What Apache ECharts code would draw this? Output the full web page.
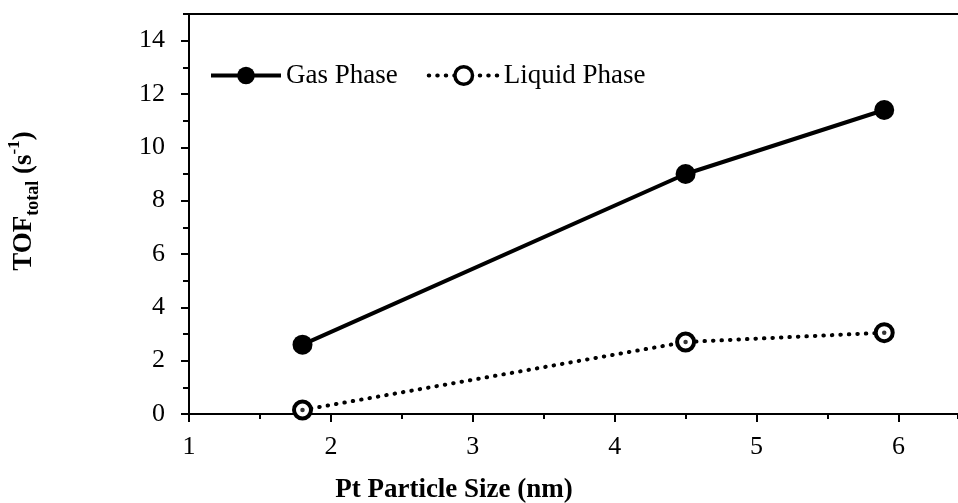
<!DOCTYPE html>
<html><head><meta charset="utf-8">
<script src="https://cdn.jsdelivr.net/npm/echarts@6/dist/echarts.min.js"></script>
<style>html,body{margin:0;padding:0;background:#fff}#c{width:958px;height:503px}</style>
</head><body><div id="c"></div>
<script>
// ---- data ----
const xMin = 1, xMax = 6.42, xStep = 1, xMinorStep = 0.5;
const yMin = 0, yMax = 15, yStep = 2, yMinorStep = 1;
const sizes = [1.8, 4.5, 5.9];
const gas = [2.6, 9.0, 11.4];
const liquid = [0.15, 2.7, 3.05];
const seriesNames = ['Gas Phase', 'Liquid Phase'];
const xTitle = 'Pt Particle Size (nm)';
const yTitleRich = '{b|TOF}{sub|total}{b| (s}{sup|-1}{b|)}';

const FONT = '"Liberation Serif","Times New Roman",serif';
const pair = (ys) => sizes.map((x, i) => [x, ys[i]]);

const chart = echarts.init(document.getElementById('c'));
const axisCommon = {
  type: 'value', splitLine: {show: false},
  axisLine: {show: true, onZero: false, lineStyle: {color: '#000', width: 2}},
};
const gasLine = {color: '#000', width: 4};
const liqLine = {color: '#000', width: 4, type: [0.5, 8], cap: 'round'};
const liqItem = {color: '#fff', borderColor: '#000', borderWidth: 4};
chart.setOption({
  animation: false,
  backgroundColor: '#fff',
  grid: {left: 189, right: 0, top: 14, bottom: 89, containLabel: false},
  xAxis: [
    Object.assign({}, axisCommon, {
      position: 'bottom', min: xMin, max: xMax, interval: xStep,
      axisTick: {show: true, inside: false, length: 8, lineStyle: {color: '#000', width: 2}},
      axisLabel: {show: true, margin: 20, color: '#000', fontSize: 26, fontFamily: FONT, showMaxLabel: false}
    }),
    Object.assign({}, axisCommon, {
      position: 'bottom', min: xMin, max: xMax, interval: xMinorStep,
      axisLine: {show: false},
      axisTick: {show: true, inside: false, length: 5, lineStyle: {color: '#000', width: 2}},
      axisLabel: {show: false}
    }),
    Object.assign({}, axisCommon, {
      position: 'top', min: xMin, max: xMax,
      axisTick: {show: false}, axisLabel: {show: false}
    })
  ],
  yAxis: [
    Object.assign({}, axisCommon, {
      position: 'left', min: yMin, max: yMax, interval: yStep,
      axisTick: {show: true, inside: false, length: 8, lineStyle: {color: '#000', width: 2}},
      axisLabel: {show: true, margin: 24, color: '#000', fontSize: 26, fontFamily: FONT, showMaxLabel: false}
    }),
    Object.assign({}, axisCommon, {
      position: 'left', offset: 0, min: yMin, max: yMax, interval: yMinorStep,
      axisLine: {show: false},
      axisTick: {show: true, inside: false, length: 6, lineStyle: {color: '#000', width: 2}},
      axisLabel: {show: false}
    })
  ],
  legend: {
    left: 209, top: 62, padding: 0, itemWidth: 70, itemHeight: 22, itemGap: 29,
    data: [
      {name: seriesNames[0], lineStyle: gasLine, itemStyle: {color: '#000'}},
      {name: seriesNames[1], lineStyle: liqLine, itemStyle: {color: '#fff', borderColor: '#000', borderWidth: 3.5}}
    ],
    textStyle: {color: '#000', fontSize: 27, fontFamily: FONT}
  },
  series: [
    {
      name: seriesNames[0], type: 'line', data: pair(gas),
      symbol: 'circle', symbolSize: 20,
      lineStyle: gasLine,
      itemStyle: {color: '#000'}, z: 3
    },
    {
      name: seriesNames[1], type: 'line', data: pair(liquid),
      symbol: 'circle', symbolSize: 17,
      lineStyle: liqLine,
      itemStyle: liqItem, z: 3
    },
    {
      name: 'dots', type: 'scatter', data: pair(liquid),
      symbol: 'circle', symbolSize: 4.5, silent: true,
      itemStyle: {color: '#000'}, z: 5
    }
  ],
  graphic: [
    {
      type: 'text', x: 454, y: 490, silent: true,
      style: {text: xTitle, fill: '#000', font: 'bold 27px ' + FONT,
        textAlign: 'center', textVerticalAlign: 'middle', align: 'center', verticalAlign: 'middle'}
    },
    {
      type: 'text', x: 24, y: 201, rotation: Math.PI / 2, silent: true,
      style: {
        text: yTitleRich, fill: '#000', font: 'bold 27px ' + FONT,
        textAlign: 'center', textVerticalAlign: 'middle', align: 'center', verticalAlign: 'middle',
        rich: {
          b: {fontSize: 27, fontWeight: 'bold', fontFamily: FONT, lineHeight: 36, fill: '#000', color: '#000'},
          sub: {fontSize: 18, fontWeight: 'bold', fontFamily: FONT, lineHeight: 17, verticalAlign: 'bottom', fill: '#000', color: '#000'},
          sup: {fontSize: 17, fontWeight: 'bold', fontFamily: FONT, lineHeight: 17, verticalAlign: 'top', fill: '#000', color: '#000'}
        }
      }
    }
  ]
});
</script></body></html>
